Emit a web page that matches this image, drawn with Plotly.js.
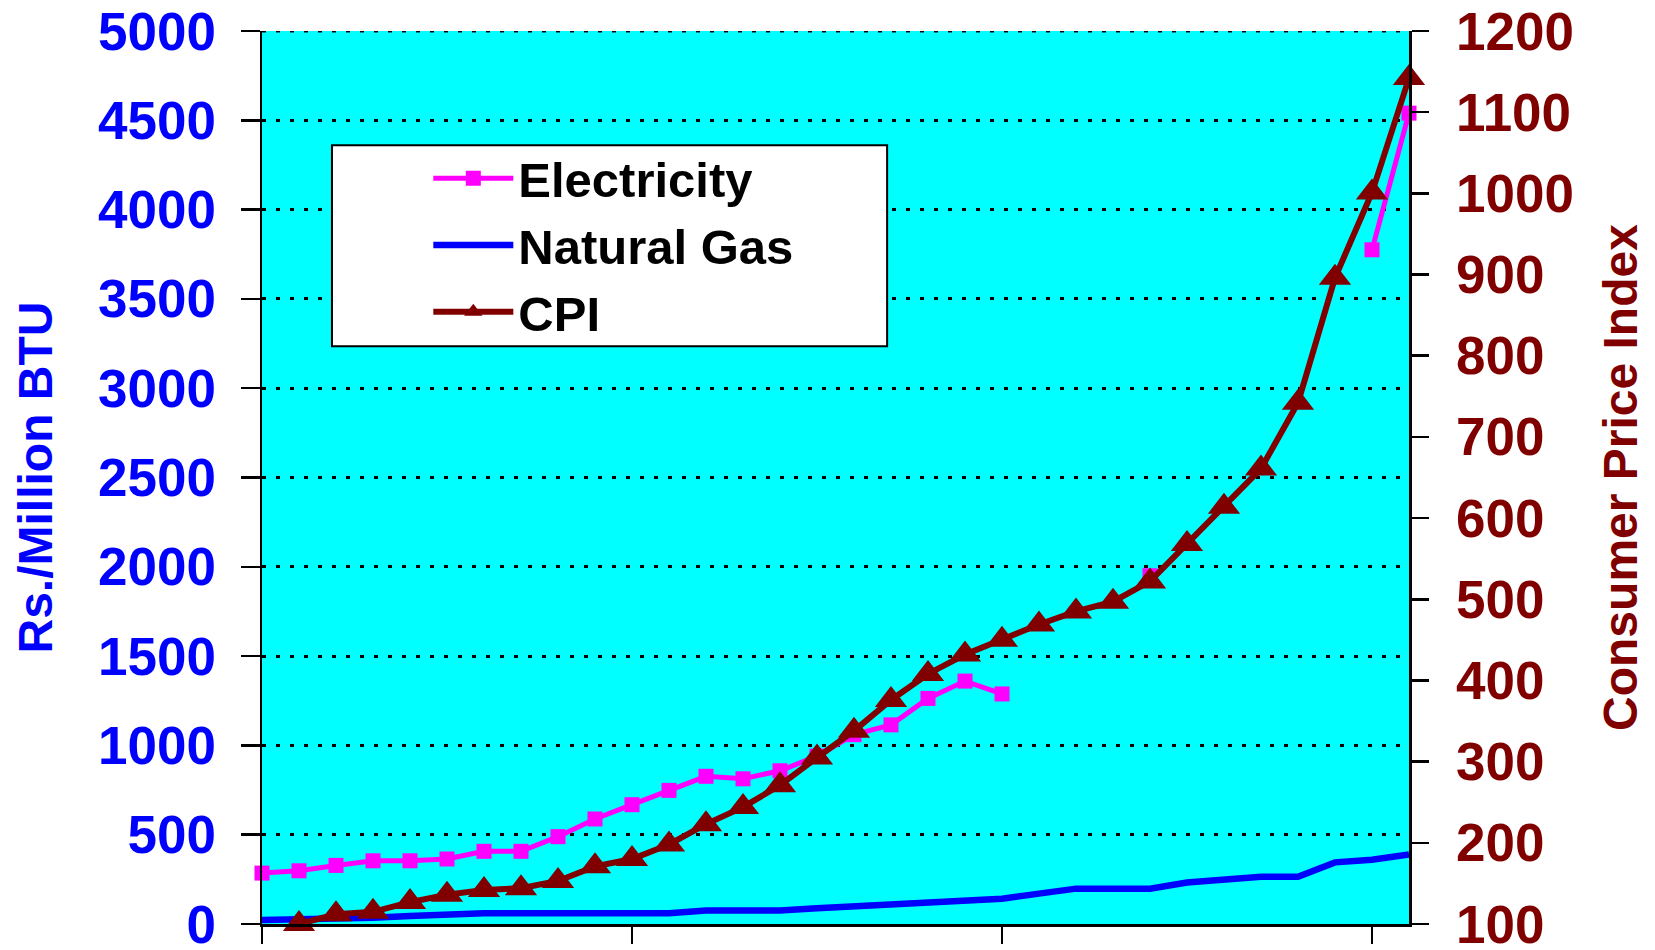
<!DOCTYPE html>
<html>
<head>
<meta charset="utf-8">
<script src="https://cdn.plot.ly/plotly-3.0.1.min.js"></script>
<style>html,body{margin:0;padding:0;background:#fff;}#chart{width:1655px;height:950px;}</style>
</head>
<body>
<div id="chart"></div>
<script>
// Period index (x axis has no labels in the original)
const periods = [0,1,2,3,4,5,6,7,8,9,10,11,12,13,14,15,16,17,18,19,20,21,22,23,24,25,26,27,28,29,30,31];
// Rs./Million BTU
const electricity = [285,298,328,354,354,364,407,407,489,588,668,748,827,813,858,940,1060,1115,1263,1360,1288,null,null,null,1950,null,null,null,null,null,3775,4540];
const naturalGas = [22,24,27,35,45,55,60,60,60,60,60,60,75,75,75,88,100,113,125,128,142,170,198,198,198,232,245,265,265,345,360,390];
// Consumer Price Index
const cpi = [null,100,112,115,127,136,142,144,153,171,180,198,223,244,271,305,338,376,408,432,450,469,485,497,522,568,614,661,742,896,1001,1142];
const xTicks = [0,10,20,30];
const leftTicks = [0,500,1000,1500,2000,2500,3000,3500,4000,4500,5000];
const rightTicks = [100,200,300,400,500,600,700,800,900,1000,1100,1200];

const FONT = 'Liberation Sans, Arial, Helvetica, sans-serif';

const traces = [
  {x: periods, y: electricity, name: 'Electricity', type: 'scatter', mode: 'lines+markers',
   line: {color: '#FF00FF', width: 5}, marker: {symbol: 'square', size: 15, color: '#FF00FF'},
   connectgaps: false, cliponaxis: false, yaxis: 'y'},
  {x: periods, y: naturalGas, name: 'Natural Gas', type: 'scatter', mode: 'lines',
   line: {color: '#0000FF', width: 6.5}, cliponaxis: false, yaxis: 'y'},
  {x: periods, y: cpi, name: 'CPI', type: 'scatter', mode: 'lines+markers',
   line: {color: '#800000', width: 6}, marker: {symbol: 'triangle-up', size: 28, color: '#800000'},
   cliponaxis: false, yaxis: 'y2'}
];

const layout = {
  width: 1655, height: 950,
  margin: {l: 262, r: 246, t: 31, b: 26, pad: 0},
  paper_bgcolor: '#FFFFFF',
  plot_bgcolor: '#00FFFF',
  showlegend: true,
  font: {family: FONT, weight: 'bold', color: '#000'},
  xaxis: {
    range: [0, 31], tickvals: xTicks, showticklabels: false,
    ticks: 'outside', ticklen: 17, tickwidth: 2.5, tickcolor: '#000',
    showline: true, linewidth: 2.5, linecolor: '#000',
    showgrid: false, zeroline: false, fixedrange: true
  },
  yaxis: {
    range: [0, 5000], tickvals: leftTicks,
    ticks: 'outside', ticklen: 19, tickwidth: 2.5, tickcolor: '#000',
    showline: true, linewidth: 2.5, linecolor: '#000',
    showgrid: true, gridcolor: '#000', gridwidth: 3, griddash: '4px,10px',
    zeroline: false, ticklabeloverflow: 'allow',
    tickfont: {family: FONT, size: 53, color: '#0000FF', weight: 'bold'},
    ticklabelstandoff: 14,
    title: {text: 'Rs./Million BTU', font: {family: FONT, size: 48, color: '#0000FF', weight: 'bold'}, standoff: 30}
  },
  yaxis2: {
    range: [100, 1200], tickvals: rightTicks, overlaying: 'y', side: 'right',
    ticks: 'outside', ticklen: 17, tickwidth: 2.5, tickcolor: '#000',
    showline: true, linewidth: 2.5, linecolor: '#000',
    showgrid: false, zeroline: false, ticklabeloverflow: 'allow',
    tickfont: {family: FONT, size: 53, color: '#800000', weight: 'bold'},
    ticklabelstandoff: 17,
    title: {text: 'Consumer Price Index', font: {family: FONT, size: 48, color: '#800000', weight: 'bold'}, standoff: 31}
  },
  legend: {
    x: 0.145, y: 0.878, xanchor: 'left', yanchor: 'top',
    bgcolor: 'rgba(0,0,0,0)', borderwidth: 0,
    font: {family: FONT, size: 49, color: '#000', weight: 'bold'},
    itemwidth: 80, tracegroupgap: 0
  },
  shapes: [
    {type: 'rect', xref: 'paper', yref: 'paper', layer: 'above',
     x0: 0.061, x1: 0.545, y0: 0.647, y1: 0.872,
     fillcolor: '#FFFFFF', line: {color: '#000', width: 2}},
    {type: 'line', xref: 'paper', yref: 'y', layer: 'above',
     x0: 0, x1: 1, y0: leftTicks[leftTicks.length - 1], y1: leftTicks[leftTicks.length - 1],
     line: {color: '#000', width: 3, dash: '4px,10px'}}
  ]
};

Plotly.newPlot('chart', traces, layout, {staticPlot: true, displayModeBar: false});
</script>
</body>
</html>
